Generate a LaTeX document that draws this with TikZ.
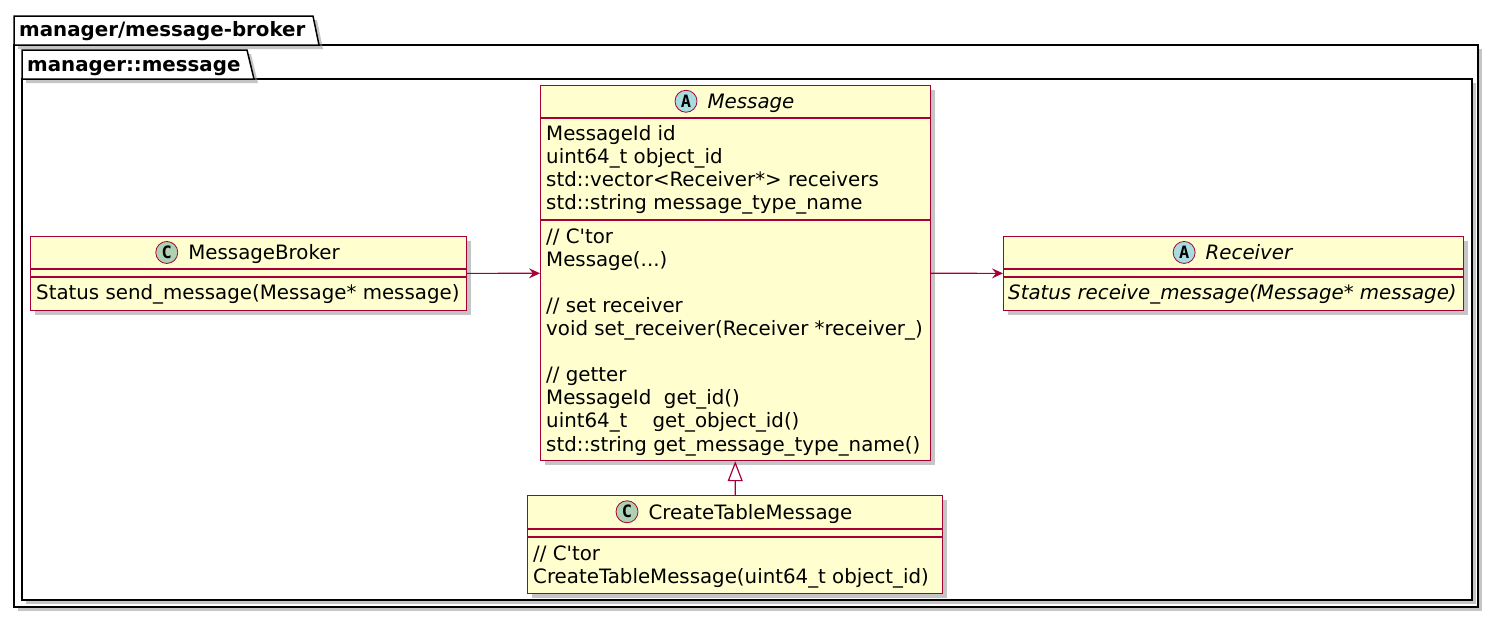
\documentclass[tikz,border=0pt]{standalone}
\usepackage{fontspec}
\setmainfont{DejaVu Sans}
\newfontfamily\badgefont{DejaVu Sans Mono}
\usetikzlibrary{arrows.meta,positioning,shadows}

\definecolor{umlred}{HTML}{A80036}
\definecolor{umlfill}{HTML}{FEFECE}
\definecolor{clsgreen}{HTML}{ADD1B2}
\definecolor{absblue}{HTML}{A9DCDF}

\begin{document}
\begin{tikzpicture}[x=1pt, y=-1pt,
    umlfont/.style={font=\fontsize{19.8}{23.1}\selectfont},
    umlitalic/.style={font=\fontsize{19.8}{23.1}\selectfont\itshape},
    umlshadow/.style={drop shadow={shadow xshift=4pt, shadow yshift=-4pt, fill=black!45, opacity=0.5}},
    classbox/.style={draw=umlred, fill=umlfill, line width=1.2pt, anchor=north west, inner sep=0pt, umlshadow},
    sep/.style={draw=umlred, line width=1.2pt},
    pkg/.style={draw=black, fill=white, line width=1.5pt, umlshadow},
    pkglabel/.style={font=\bfseries\fontsize{19.8}{23}\selectfont, anchor=base west, inner sep=0pt},
    title/.style={umlfont, anchor=base, inner sep=0pt, text height=14.5pt, text depth=0pt},
    members/.style={umlfont, anchor=base west, align=left, inner sep=0pt},
    badge/.style={circle, draw=umlred, line width=0.8pt, minimum size=22pt, inner sep=0pt, font=\badgefont\bfseries\fontsize{17}{17}\selectfont},
    assoc/.style={draw=umlred, line width=1.2pt, -{Stealth[length=11pt, width=10pt, inset=4pt]}},
    inherit/.style={draw=umlred, line width=1.2pt, -{Triangle[open, length=20pt, width=15pt]}}
]
\useasboundingbox (0,0) rectangle (1500,619);

% packages
\draw[pkg] (14,45) rectangle (1478,607);
\draw[pkg] (14,45) -- (14,16) -- (313,16) -- (319,45) -- cycle;
\node[pkglabel] (outerlbl) at (19,36) {manager/message-broker};
\draw[pkg] (22,79) rectangle (1472,600);
\draw[pkg] (22,79) -- (22,50) -- (247,50) -- (254,79) -- cycle;
\node[pkglabel] (innerlbl) at (27,71) {manager::message};

% classes (member nodes sit on the baseline of their last line)
\node[classbox, minimum width=390pt, minimum height=375pt] (msg) at (540,85) {};
\draw[sep] (540,118) -- (930,118);
\draw[sep] (540,220) -- (930,220);
\node[title, umlitalic] (msgname) at (751,108.5) {Message};
\node[badge, fill=absblue, left=10pt of msgname] (msgbadge) {A};
\node[members] (msgattr) at (546,209.5) {MessageId id\\uint64\_t object\_id\\std::vector<Receiver*> receivers\\std::string message\_type\_name};
\node[members] (msgops) at (546,451) {// C\textquotesingle tor\\Message(...)\\[23.1pt]// set receiver\\void set\_receiver(Receiver *receiver\_)\\[23.1pt]// getter\\MessageId\ \ get\_id()\\uint64\_t\ \ \ \ get\_object\_id()\\std::string get\_message\_type\_name()};

\node[classbox, minimum width=436pt, minimum height=74pt] (broker) at (30,236) {};
\draw[sep] (30,269) -- (466,269);
\draw[sep] (30,277) -- (466,277);
\node[title] (brokername) at (264,259.7) {MessageBroker};
\node[badge, fill=clsgreen, left=10pt of brokername] (brokerbadge) {C};
\node[members] (brokerops) at (36,299.5) {Status send\_message(Message* message)};

\node[classbox, minimum width=460pt, minimum height=74pt] (recv) at (1003,236) {};
\draw[sep] (1003,269) -- (1463,269);
\draw[sep] (1003,277) -- (1463,277);
\node[title, umlitalic] (recvname) at (1249,259.7) {Receiver};
\node[badge, fill=absblue, left=10pt of recvname] (recvbadge) {A};
\node[members, umlitalic] (recvops) at (1008,299.5) {Status receive\_message(Message* message)};

\node[classbox, minimum width=415pt, minimum height=98pt] (ctm) at (527,495) {};
\draw[sep] (527,529) -- (942,529);
\draw[sep] (527,537) -- (942,537);
\node[title] (ctmname) at (750.5,519) {CreateTableMessage};
\node[badge, fill=clsgreen, left=10pt of ctmname] (ctmbadge) {C};
\node[members] (ctmops) at (533,583.3) {// C\textquotesingle tor\\CreateTableMessage(uint64\_t object\_id)};

% relations
\draw[assoc] (broker) -- (msg);
\draw[assoc] (msg) -- (recv);
\draw[inherit] (ctm) -- (msg);
\end{tikzpicture}
\end{document}
